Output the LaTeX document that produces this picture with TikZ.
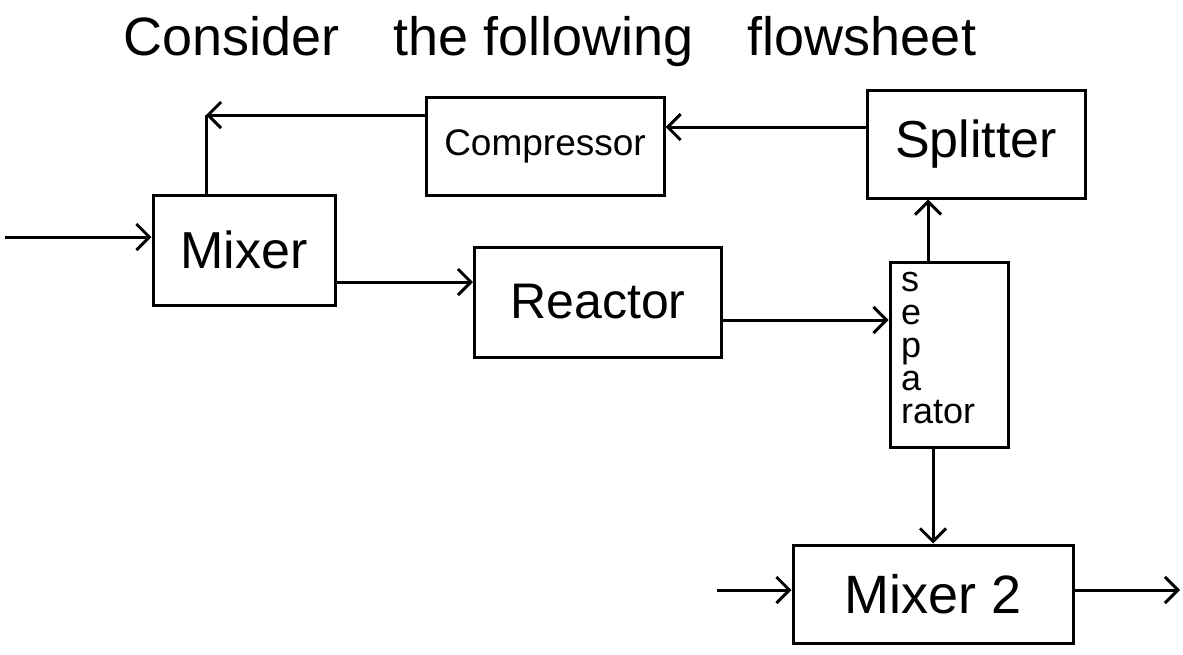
\documentclass[tikz,border=0pt]{standalone}
\usepackage{fontspec}
\setmainfont{Liberation Sans}
\usetikzlibrary{arrows.meta}
\begin{document}
\begin{tikzpicture}[x=1pt,y=-1pt,
  unit/.style={draw, line width=3pt, rectangle, inner sep=0pt, font=\fontsize{50}{56}\selectfont},
  arr/.style={line width=3pt, -{Straight Barb[length=13pt,width=26pt,line width=3pt]}},
  pipe/.style={line width=3pt}]
\useasboundingbox (0,0) rectangle (1183,654);
\node (title) at (550,42) {\fontsize{54}{60}\selectfont Consider\quad the following\quad flowsheet};
\node[unit, minimum width=238pt, minimum height=98pt, font=\fontsize{37}{42}\selectfont] (comp) at (545,146) {Compressor};
\node[unit, minimum width=218pt, minimum height=108pt, font=\fontsize{52}{58}\selectfont] (split) at (976,144) {Splitter};
\node[unit, minimum width=182pt, minimum height=110pt, font=\fontsize{52}{58}\selectfont] (mixer) at (244,250) {Mixer};
\node[unit, minimum width=247pt, minimum height=110pt] (reactor) at (598,302) {Reactor};
\node[unit, minimum width=118pt, minimum height=185pt] (sep) at (949,355) {};
\node[anchor=north west, align=left, inner sep=0pt, font=\fontsize{36}{33}\selectfont] (septext) at (901,272) {s\\e\\p\\a\\rator};
\node[unit, minimum width=280pt, minimum height=98pt, font=\fontsize{54}{60}\selectfont] (mixer2) at (933,594) {Mixer 2};
\coordinate (in1) at (5,237);
\coordinate (corner) at (206,115);
\coordinate (in2) at (717,590);
\coordinate (out2) at (1180,590);
\draw[arr] (in1) -- (in1 -| mixer.west);
\draw[arr] (mixer.east |- 0,282) -- (reactor.west |- 0,282);
\draw[arr] (reactor.east |- 0,320) -- (sep.west |- 0,320);
\draw[arr] ([xshift=-21pt]sep.north) -- ([xshift=-48pt]split.south);
\draw[arr] (split.west |- 0,127) -- (comp.east |- 0,127);
\draw[arr] (comp.west |- corner) -- (corner);
\draw[pipe] (corner) -- (corner |- mixer.north);
\draw[arr] (sep.south -| mixer2.north) -- (mixer2.north);
\draw[arr] (in2) -- (in2 -| mixer2.west);
\draw[arr] (mixer2.east |- out2) -- (out2);
\end{tikzpicture}
\end{document}
